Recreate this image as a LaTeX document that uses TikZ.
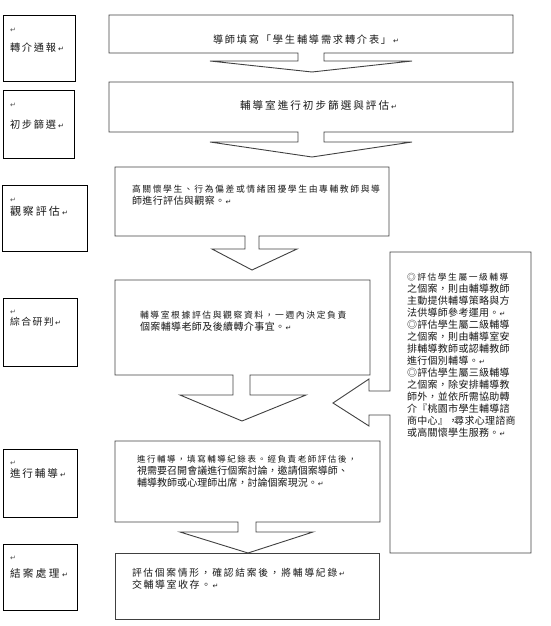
\documentclass[tikz,border=0pt]{standalone}
\usepackage{fontspec}
\setmainfont{Noto Sans CJK TC}
\newfontfamily\dejavu{DejaVu Sans}
\ExplSyntaxOn
\dim_new:N \l_cjp_pitch_dim
\cs_new_protected:Npn \cjp_char:n #1 { \hbox_to_wd:nn \l_cjp_pitch_dim { #1 \hfil } }
\NewDocumentCommand \cj { m m } { \dim_set:Nn \l_cjp_pitch_dim {#1} \tl_map_inline:nn {#2} { \cjp_char:n {##1} } }
\ExplSyntaxOff
\newcommand{\ret}{{\fontsize{7pt}{7pt}\dejavu ↵}}
\newcommand{\pf}[2]{\fontsize{#1pt}{#2pt}\selectfont}
\begin{document}
\begin{tikzpicture}[x=1pt,y=-1pt,
  cbox/.style={draw=black!75,line width=0.9pt,line join=miter},
  lbox/.style={draw=black,line width=0.8pt},
  txt/.style={inner sep=0pt,outer sep=0pt,align=left,text=black!90},
  retmark/.style={inner sep=0pt,anchor=west,text=black!70}]
\useasboundingbox (0,0) rectangle (550,626);
% left label boxes
\draw[lbox] (3,15) rectangle (75,81);
\draw[lbox] (3,90) rectangle (74,158);
\draw[lbox] (2,185) rectangle (87,251);
\draw[lbox] (3,298) rectangle (77,366);
\draw[lbox] (3,449) rectangle (77,517);
\draw[lbox] (3,544) rectangle (77,610);
\node[retmark] (r1) at (10,30) {\ret};
\node[txt,anchor=west] (l1) at (10,48) {\pf{10.2}{12}\cj{12pt}{轉介通報}\ret};
\node[retmark] (r2) at (10,105) {\ret};
\node[txt,anchor=west] (l2) at (10,125) {\pf{10.2}{12}\cj{12pt}{初步篩選}\ret};
\node[retmark] (r3) at (10,200) {\ret};
\node[txt,anchor=west] (l3) at (10,211) {\pf{11}{12}\cj{13pt}{觀察評估}\ret};
\node[retmark] (r4) at (10,312) {\ret};
\node[txt,anchor=west] (l4) at (10,322) {\pf{9.8}{12}\cj{11.3pt}{綜合研判}\ret};
\node[retmark] (r5) at (10,463) {\ret};
\node[txt,anchor=west] (l5) at (10,473) {\pf{10.6}{12}\cj{12.5pt}{進行輔導}\ret};
\node[retmark] (r6) at (10,558) {\ret};
\node[txt,anchor=west] (l6) at (10,573) {\pf{10.6}{12}\cj{13pt}{結案處理}\ret};
% callout boxes
\draw[cbox] (109,15) -- (513,15) -- (513,53) -- (324,53) -- (324,61) -- (412,61) -- (312,72) -- (210,61) -- (298,61) -- (298,53) -- (109,53) -- cycle;
\draw[cbox] (109,82) -- (513,82) -- (513,132) -- (324,132) -- (324,142) -- (412,142) -- (312,157) -- (210,142) -- (298,142) -- (298,132) -- (109,132) -- cycle;
\draw[cbox] (115,167) -- (389,167) -- (389,236) -- (259,236) -- (259,249) -- (297,249) -- (252,270) -- (212,249) -- (245,249) -- (245,236) -- (115,236) -- cycle;
\draw[cbox] (115,280) -- (370,280) -- (370,375) -- (250,375) -- (250,395) -- (306,395) -- (242,421) -- (180,395) -- (233,395) -- (233,375) -- (115,375) -- cycle;
\draw[cbox] (390,252) -- (531,252) -- (531,553) -- (390,553) -- (390,415) -- (369,415) -- (369,426) -- (333,403) -- (369,379) -- (369,391) -- (390,391) -- cycle;
\draw[cbox] (115,441) -- (380,441) -- (380,522) -- (256,522) -- (256,532) -- (313,532) -- (248,553) -- (180,532) -- (238,532) -- (238,522) -- (115,522) -- cycle;
\draw[cbox] (115,553) rectangle (379,619);
% texts
\node[txt,anchor=west] (ta) at (213,40) {\pf{10.2}{12}\cj{12pt}{導師填寫「學生輔導需求轉介表」}\ret};
\node[txt,anchor=west] (tb) at (240,105) {\pf{10.6}{12}\cj{12.6pt}{輔導室進行初步篩選與評估}\ret};
\node[txt,anchor=north west] (tc) at (132,185) {\pf{8.8}{14}\cj{10.4pt}{高關懷學生、行為偏差或情緒困擾學生由專輔教師與導}\\\cj{10.4pt}{師進行評估與觀察。}\ret};
\node[txt,anchor=north west] (td) at (140,311) {\pf{8.8}{15}\cj{10.4pt}{輔導室根據評估與觀察資料，一週內決定負責}\\\cj{10.4pt}{個案輔導老師及後續轉介事宜。}\ret};
\node[txt,anchor=north west] (te) at (407,273) {\pf{8.7}{18.7}\cj{10.3pt}{◎評估學生屬一級輔導}\\\cj{10.3pt}{之個案，則由輔導教師}\\\cj{10.3pt}{主動提供輔導策略與方}\\\cj{10.3pt}{法供導師參考運用。}\ret\\\cj{10.3pt}{◎評估學生屬二級輔導}\\\cj{10.3pt}{之個案，則由輔導室安}\\\cj{10.3pt}{排輔導教師或認輔教師}\\\cj{10.3pt}{進行個別輔導。}\ret\\\cj{10.3pt}{◎評估學生屬三級輔導}\\\cj{10.3pt}{之個案，除安排輔導教}\\\cj{10.3pt}{師外，並依所需協助轉}\\\cj{10.3pt}{介『桃園市學生輔導諮}\\\cj{10.3pt}{商中心』}\cj{6pt}{，}\cj{10.3pt}{尋求心理諮商}\\\cj{10.3pt}{或高關懷學生服務。}\ret};
\node[txt,anchor=north west] (tf) at (137,455) {\pf{8.5}{16}\cj{10.05pt}{進行輔導，填寫輔導紀錄表。經負責老師評估後，}\\\cj{10.05pt}{視需要召開會議進行個案討論，邀請個案導師、}\\\cj{10.05pt}{輔導教師或心理師出席，討論個案現況。}\ret};
\node[txt,anchor=north west] (tg) at (132,568.5) {\pf{9.75}{17}\cj{11.5pt}{評估個案情形，確認結案後，將輔導紀錄}\ret\\\cj{11.5pt}{交輔導室收存。}\ret};
\end{tikzpicture}
\end{document}
